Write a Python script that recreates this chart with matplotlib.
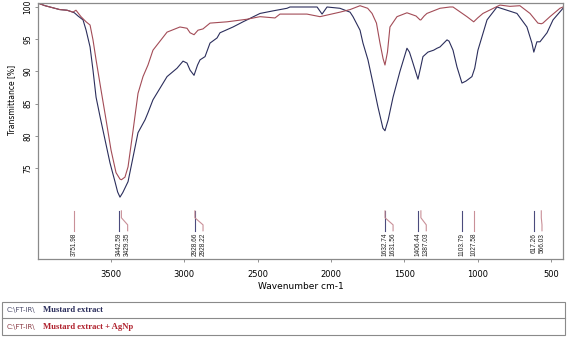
import matplotlib
matplotlib.use("Agg")
import matplotlib.pyplot as plt
from matplotlib.patches import Rectangle
from matplotlib.lines import Line2D

# ---- data ----
wn_extract = [3998, 3950, 3900, 3850, 3800, 3773, 3750, 3725, 3691, 3670, 3643, 3623, 3602, 3575,
              3541, 3507, 3473, 3455, 3439, 3420, 3384, 3350, 3316, 3268, 3248, 3214, 3118, 3050,
              3009, 2982, 2961, 2934, 2910, 2893, 2859, 2825, 2777, 2757, 2668, 2600, 2573, 2484,
              2395, 2300, 2280, 2095, 2061, 2027, 1939, 1870, 1850, 1802, 1782, 1748, 1714, 1680,
              1646, 1632, 1610, 1577, 1530, 1482, 1465, 1448, 1407, 1390, 1373, 1339, 1300, 1277,
              1257, 1209, 1195, 1168, 1141, 1107, 1080, 1039, 1020, 998, 936, 868, 800, 732, 664,
              630, 617, 596, 575, 527, 486, 418]
t_extract = [100.6, 100.2, 99.9, 99.6, 99.5, 99.3, 99.1, 98.6, 98.0, 96.4, 93.8, 90.2, 86.0, 83.0,
             79.4, 75.8, 72.9, 71.3, 70.5, 71.2, 72.9, 76.7, 80.5, 82.5, 83.6, 85.6, 89.2, 90.5,
             91.6, 91.3, 90.2, 89.4, 91.0, 91.8, 92.3, 94.4, 95.2, 96.0, 96.9, 97.7, 98.0, 99.0,
             99.4, 99.8, 100.0, 100.0, 98.9, 100.0, 99.8, 99.2, 98.5, 96.4, 94.4, 91.8, 88.2, 84.5,
             81.2, 80.8, 82.5, 86.0, 90.0, 93.6, 93.0, 91.8, 88.8, 90.5, 92.3, 93.0, 93.3, 93.6,
             93.8, 94.9, 94.7, 93.3, 90.7, 88.2, 88.5, 89.2, 90.5, 93.3, 98.0, 100.0, 99.5, 99.0, 96.9,
             94.4, 93.0, 94.6, 94.6, 96.0, 98.0, 99.8]

wn_agnp = [3998, 3950, 3900, 3850, 3800, 3773, 3760, 3739, 3705, 3670, 3643, 3623, 3602, 3568,
           3534, 3500, 3466, 3439, 3429, 3405, 3384, 3350, 3316, 3282, 3248, 3214, 3118, 3030,
           2982, 2961, 2934, 2907, 2873, 2825, 2709, 2573, 2484, 2382, 2348, 2164, 2075, 1939,
           1870, 1802, 1750, 1720, 1690, 1666, 1645, 1632, 1615, 1598, 1550, 1482, 1420, 1393,
           1387, 1365, 1346, 1257, 1189, 1168, 1073, 1027, 1000, 964, 848, 780, 712, 643, 589,
           566, 555, 507, 439, 418]
t_agnp = [100.6, 100.2, 99.9, 99.6, 99.5, 99.3, 99.2, 99.5, 98.5, 97.7, 97.2, 94.9, 91.8, 87.1,
          82.5, 77.8, 74.3, 73.3, 73.2, 73.6, 75.2, 80.8, 86.6, 89.2, 91.0, 93.3, 96.1, 96.9,
          96.7, 96.0, 95.7, 96.4, 96.6, 97.5, 97.7, 98.1, 98.5, 98.3, 98.9, 98.9, 98.5, 99.2,
          99.6, 100.2, 99.8, 99.0, 97.5, 94.4, 92.0, 91.0, 93.0, 96.9, 98.5, 99.1, 98.6, 98.0,
          98.0, 98.6, 99.0, 99.8, 100.0, 100.0, 98.5, 97.7, 98.3, 99.0, 100.3, 100.1, 100.2, 99.0,
          97.5, 97.4, 97.5, 98.5, 99.8, 100.0]

peak_wn = [3751.98, 3442.59, 3429.35, 2928.66, 2928.22, 1632.74, 1631.56,
           1406.44, 1387.03, 1103.79, 1027.58, 617.26, 566.03]
peak_labels = ["3751.98", "3442.59", "3429.35", "2928.66", "2928.22", "1632.74", "1631.56",
               "1406.44", "1387.03", "1103.79", "1027.58", "617.26", "566.03"]
peak_series = ["agnp", "extract", "agnp", "extract", "agnp", "extract", "agnp",
               "extract", "agnp", "extract", "agnp", "extract", "agnp"]

legend_names = ["Mustard extract", "Mustard extract + AgNp"]
path_prefix = "C:\\FT-IR\\"

# ---- styling ----
c_extract = "#2b2e5c"
c_agnp = "#a34c57"
c_mark = {"extract": "#4b4b7d", "agnp": "#c99098"}

fig = plt.figure(figsize=(5.67, 3.38), dpi=100)
ax = fig.add_axes([38/567, 1-259/338, (563-38)/567, (259-3)/338])

ax.plot(wn_extract, t_extract, color=c_extract, lw=0.8)
ax.plot(wn_agnp, t_agnp, color=c_agnp, lw=0.8)

ax.set_xlim(3998, 418)
ax.set_ylim(60.9, 100.62)
ax.set_xticks([3500, 3000, 2500, 2000, 1500, 1000, 500])
ax.set_yticks([75, 80, 85, 90, 95, 100])
ax.tick_params(axis='x', labelsize=6, length=2, width=0.6, color='#808080', pad=6)
ax.tick_params(axis='y', labelsize=5.5, length=2, width=0.6, color='#808080', pad=2)
for lab in ax.get_yticklabels():
    lab.set_rotation(90)
    lab.set_va('center')
for s in ax.spines.values():
    s.set_color('#8a8a8a')
    s.set_linewidth(0.9)

ax.set_xlabel("Wavenumber cm-1", fontsize=6.5, labelpad=2)
fig.text(12/567, 1-100/338, "Transmittance [%]", rotation=90, fontsize=5.5,
         ha='center', va='center')

# ---- peak markers ----
y_top, y_b1, y_b2, y_bot, y_txt = 68.37, 67.3, 66.2, 65.28, 64.95
min_sep = 56.0
prev = None
for w, lab, ser in zip(peak_wn, peak_labels, peak_series):
    pos = w if prev is None else min(w, prev - min_sep)
    col = c_mark[ser]
    if abs(pos - w) < 1e-6:
        ax.plot([w, w], [y_top, y_bot], color=col, lw=0.8)
    else:
        ax.plot([w, w, pos, pos], [y_top, y_b1, y_b2, y_bot], color=col, lw=0.8)
    ax.text(pos, y_txt, lab, rotation=90, ha='center', va='top', fontsize=4.7,
            family='Liberation Sans', color='#222222')
    prev = pos

# ---- legend box ----
x0, x1 = 2/567, 565/567
yb, ym, yt = 1-335/338, 1-318/338, 1-302/338
fig.patches.append(Rectangle((x0, yb), x1-x0, yt-yb, transform=fig.transFigure,
                             fill=False, ec='#8a8a8a', lw=0.8))
fig.add_artist(Line2D([x0, x1], [ym, ym], transform=fig.transFigure, color='#8a8a8a', lw=0.8))
row_y = [1-310/338, 1-327/338]
row_cols = [c_extract, "#b0222e"]
prefix_cols = ["#4a4a6a", "#8a3a44"]
for name, yy, cc, pc in zip(legend_names, row_y, row_cols, prefix_cols):
    fig.text(7/567, yy, path_prefix, fontsize=5, color=pc, va='center', ha='left')
    fig.text(43/567, yy, name, fontsize=6.2, color=cc, va='center', ha='left',
             family='Liberation Serif', weight='bold')

fig.savefig("out.png", dpi=100)
